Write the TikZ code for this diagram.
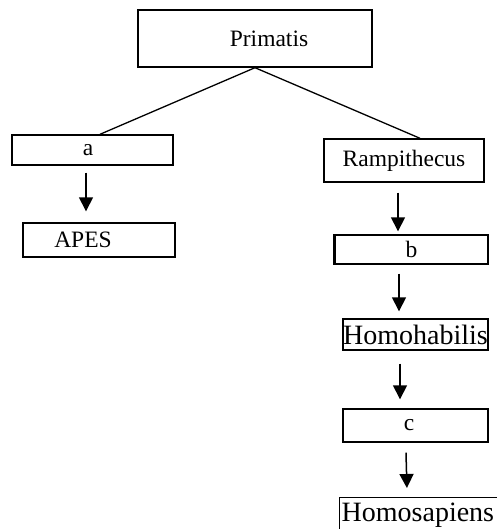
\documentclass[tikz,border=0pt]{standalone}
\usepackage{fontspec}
\setmainfont{Liberation Serif}
\usetikzlibrary{arrows.meta}
\begin{document}
\begin{tikzpicture}[x=1pt,y=-1pt,
  box/.style={draw=black, line width=1.4pt, inner sep=0pt, align=center,
    font=\fontsize{23.5}{28}\selectfont},
  bigbox/.style={box, font=\fontsize{28}{32}\selectfont},
  link/.style={line width=1.3pt},
  arr/.style={line width=1.5pt, -{Triangle[length=14pt,width=14pt]}}]
\useasboundingbox (0,0) rectangle (496,529);
\node[box, minimum width=234pt, minimum height=57pt] (P) at (255,38.5) {\hspace*{28pt}Primatis};
\node[box, minimum width=161pt, minimum height=30pt] (a) at (92.5,150) {a\hspace*{9pt}};
\node[box, minimum width=152pt, minimum height=34pt] (apes) at (99,240) {APES\hspace*{32pt}};
\node[box, minimum width=160pt, minimum height=43pt] (R) at (404,160.5) {Rampithecus};
\node[box, minimum width=153pt, minimum height=29pt] (b) at (411.5,249.5) {b};
\node[bigbox, minimum width=145pt, minimum height=31pt] (hh) at (415.5,334.5) {Homohabilis};
\node[box, minimum width=145pt, minimum height=33pt] (c) at (415.5,425.5) {c\hspace*{13pt}};
\node[bigbox, minimum width=162pt, minimum height=36pt, anchor=north west] (hs) at (339,497) {\hspace*{2pt}Homosapiens\hspace*{8pt}};
\draw[line width=3pt] (b.south west) -- (b.north west);
\draw[link] (P.south) -- ([xshift=7.5pt]a.north);
\draw[link] (P.south) -- ([xshift=16pt]R.north);
\draw[arr] ([xshift=-6.5pt,yshift=-7pt]a.south) -- ([xshift=-13pt,yshift=11pt]apes.north);
\draw[arr] ([xshift=-6pt,yshift=-10pt]R.south) -- ([xshift=-13.5pt,yshift=3pt]b.north);
\draw[arr] ([xshift=-12.5pt,yshift=-9pt]b.south) -- ([xshift=-16.5pt,yshift=7pt]hh.north);
\draw[arr] ([xshift=-15.5pt,yshift=-13pt]hh.south) -- ([xshift=-15.5pt,yshift=9pt]c.north);
\draw[arr] ([xshift=-9.5pt,yshift=-10pt]c.south) -- ([xshift=-14pt,yshift=9pt]hs.north);
\end{tikzpicture}
\end{document}
